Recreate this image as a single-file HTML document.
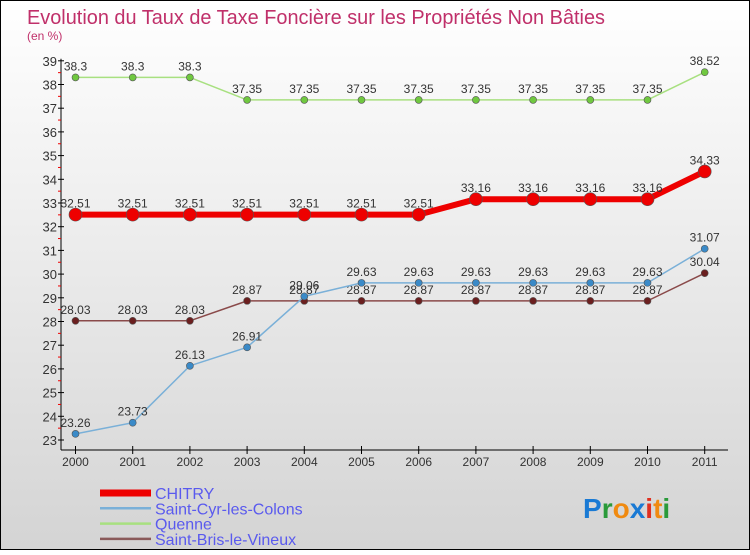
<!DOCTYPE html>
<html><head><meta charset="utf-8"><style>
body{margin:0}
#c{width:750px;height:550px;position:relative;font-family:"Liberation Sans",sans-serif;}
</style></head><body>
<div id="c">
<svg width="750" height="550" xmlns="http://www.w3.org/2000/svg">
<defs><linearGradient id="bg" x1="0" y1="0" x2="0" y2="1"><stop offset="0" stop-color="#ffffff"/><stop offset="1" stop-color="#d4d4d4"/></linearGradient></defs>
<rect x="0.5" y="0.5" width="749" height="549" fill="url(#bg)" stroke="#000"/>
<text x="27" y="24" font-size="20" fill="#c0306a" textLength="578" lengthAdjust="spacingAndGlyphs">Evolution du Taux de Taxe Foncière sur les Propriétés Non Bâties</text>
<text x="27" y="40" font-size="12" fill="#c0306a">(en %)</text>
<g id="axes"></g>
<g id="series"></g>
<g id="legend"></g>
<text x="583" y="518" font-size="28" font-weight="bold"><tspan fill="#1a7ad4">P</tspan><tspan fill="#2a9a3a">r</tspan><tspan fill="#f08a10">o</tspan><tspan fill="#1a7ad4">x</tspan><tspan fill="#e03020">i</tspan><tspan fill="#f08a10">t</tspan><tspan fill="#2a9a3a">i</tspan></text>
</svg>
</div>
<script>
const years=["2000","2001","2002","2003","2004","2005","2006","2007","2008","2009","2010","2011"];
const yTicks=[23,24,25,26,27,28,29,30,31,32,33,34,35,36,37,38,39];
const chitry=[32.51,32.51,32.51,32.51,32.51,32.51,32.51,33.16,33.16,33.16,33.16,34.33];
const saintCyr=[23.26,23.73,26.13,26.91,29.06,29.63,29.63,29.63,29.63,29.63,29.63,31.07];
const quenne=[38.3,38.3,38.3,37.35,37.35,37.35,37.35,37.35,37.35,37.35,37.35,38.52];
const saintBris=[28.03,28.03,28.03,28.87,28.87,28.87,28.87,28.87,28.87,28.87,28.87,30.04];
const NS="http://www.w3.org/2000/svg";
const xs=i=>75.5+i*57.2;
const ys=v=>440-(v-23)*23.7;
function mk(tag,attrs,parent,txt){const e=document.createElementNS(NS,tag);for(const k in attrs)e.setAttribute(k,attrs[k]);if(txt!==undefined)e.textContent=txt;parent.appendChild(e);return e;}
const ax=document.getElementById('axes');
let l=mk('line',{x1:61,y1:ys(39)-2,x2:61,y2:450,stroke:'#000'},ax);


l=mk('line',{x1:61,y1:450,x2:728,y2:450,stroke:'#000'},ax);


yTicks.forEach(v=>{const y=ys(v);
 mk('line',{x1:58,y1:y,x2:64,y2:y,stroke:'#000'},ax);
 if(v<39)mk('line',{x1:58,y1:y-11.85,x2:61,y2:y-11.85,stroke:'#e00'},ax);
 const t=mk('text',{x:57,y:y+5,'font-size':13,'text-anchor':'end',fill:'#333'},ax,String(v));
 
 
});
years.forEach((yr,i)=>{const x=xs(i);
 mk('line',{x1:x,y1:446,x2:x,y2:454,stroke:'#000'},ax);
 const t=mk('text',{x:x,y:466,'font-size':12,'text-anchor':'middle',fill:'#333'},ax,yr);
 
 
});
const sg=document.getElementById('series');
function draw(vals,color,dot,w,r,name){
 const g=mk('g',{},sg);
 
 
 const p=mk('polyline',{points:vals.map((v,i)=>xs(i)+','+ys(v)).join(' '),fill:'none',stroke:color,'stroke-width':w,'stroke-linejoin':'round'},g);
 
 
 vals.forEach((v,i)=>{
  const c=mk('circle',{cx:xs(i),cy:ys(v),r:r,fill:dot,stroke:'#555','stroke-width':0.6},g);
  
  
  const t=mk('text',{x:xs(i),y:ys(v)-7,'font-size':12,'text-anchor':'middle',fill:'#333'},g,String(v));
  
  
 });
}
draw(saintBris,'#8a4a4a','#6b1f1f',1.5,3.5,'saint-bris');
draw(saintCyr,'#7ab0d8','#3a8ac8',1.5,3.5,'saint-cyr');
draw(quenne,'#a8e080','#70c840',1.5,3.5,'quenne');
draw(chitry,'#ee0000','#ee0000',6,6.5,'chitry');
const lg=document.getElementById('legend');
[["CHITRY","#ee0000",7],["Saint-Cyr-les-Colons","#7ab0d8",2.5],["Quenne","#a8e080",2.5],["Saint-Bris-le-Vineux","#8a5a5a",2.5]].forEach((e,i)=>{
 const y=493+i*15.3;
 const g=mk('g',{},lg);
 
 
 mk('line',{x1:100,y1:y,x2:151,y2:y,stroke:e[1],'stroke-width':e[2]},g);
 mk('text',{x:155,y:y+6,'font-size':16,fill:'#5a5aee'},g,e[0]);
});
</script>
</body></html>
